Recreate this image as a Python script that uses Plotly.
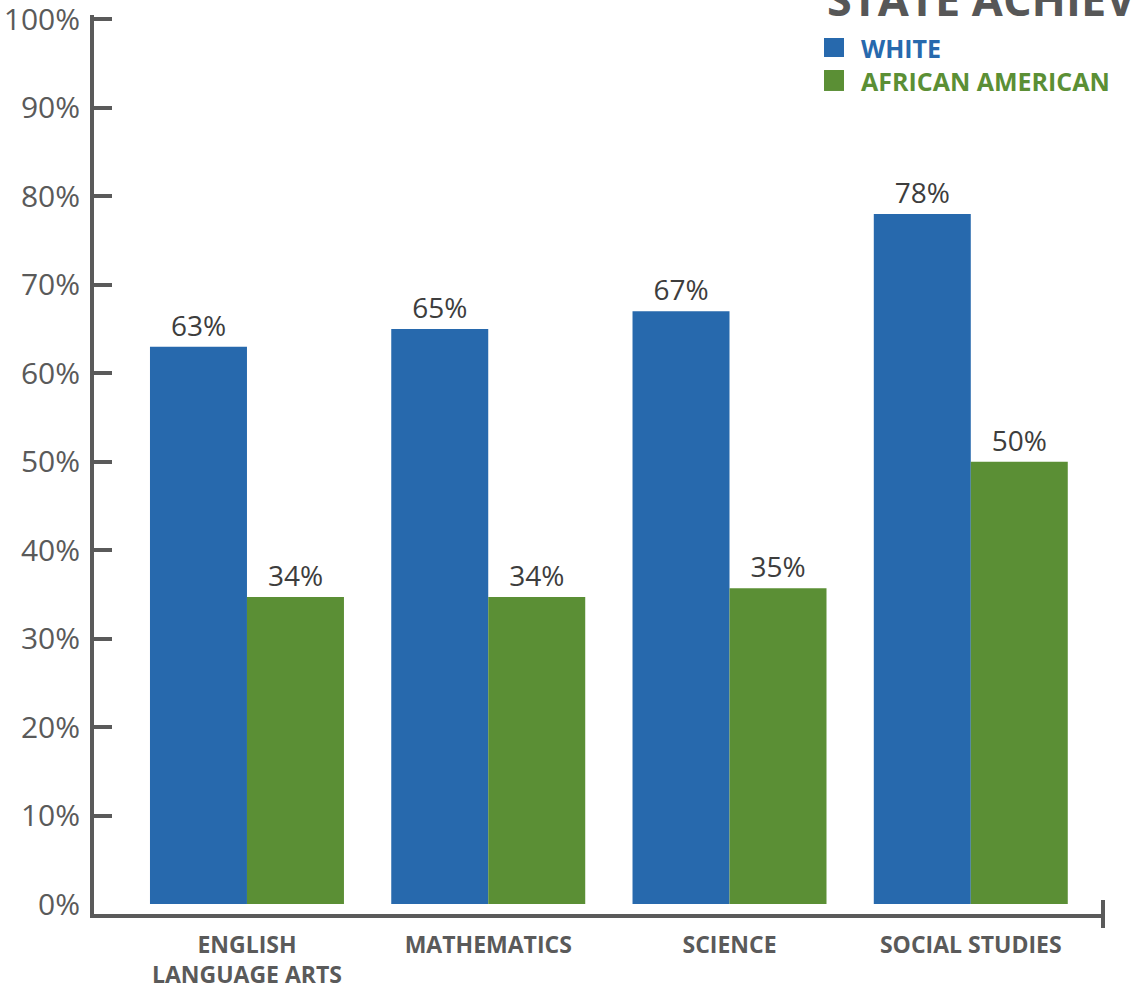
"""State achievement bar chart: white vs African American students by subject."""
from __future__ import annotations

import plotly.graph_objects as go

SUBJECTS = ["ENGLISH<br>LANGUAGE ARTS", "MATHEMATICS", "SCIENCE", "SOCIAL STUDIES"]
WHITE = [63, 65, 67, 78]
WHITE_LABELS = ["63%", "65%", "67%", "78%"]
AFRICAN_AMERICAN = [34.7, 34.7, 35.7, 50]
AFRICAN_AMERICAN_LABELS = ["34%", "34%", "35%", "50%"]
Y_TICKS = [0, 10, 20, 30, 40, 50, 60, 70, 80, 90, 100]
Y_TICK_TEXT = [f"{v}%" for v in Y_TICKS]

BLUE = "#2769ad"
GREEN = "#5b8f35"
AXIS = "#5a5a5a"
FONT = "Open Sans"
Y_RANGE = [-1.13, 100.5]


def build_figure() -> go.Figure:
    fig = go.Figure()
    for name, values, labels, color in (
        ("WHITE", WHITE, WHITE_LABELS, BLUE),
        ("AFRICAN AMERICAN", AFRICAN_AMERICAN, AFRICAN_AMERICAN_LABELS, GREEN),
    ):
        fig.add_trace(go.Bar(
            x=SUBJECTS, y=values, name=name, marker={"color": color, "line": {"width": 0}},
            text=labels, textposition="outside", cliponaxis=False,
            textfont={"family": FONT, "size": 28, "color": "#3d3d3d"},
        ))
    # invisible trace on the overlay axis, only there to carry the inside ticks
    fig.add_trace(go.Scatter(x=[SUBJECTS[0]], y=[None], yaxis="y2", showlegend=False))

    fig.update_layout(
        width=1137, height=988,
        margin={"l": 94, "r": 34, "t": 15, "b": 74, "autoexpand": False},
        paper_bgcolor="white", plot_bgcolor="white",
        barmode="group", bargap=0.196, bargroupgap=0,
        showlegend=False,
        xaxis={
            "range": [-0.634, 3.548], "showline": True, "linecolor": AXIS, "linewidth": 4,
            "ticks": "", "showgrid": False, "zeroline": False, "ticklabelstandoff": 7,
            "automargin": False, "ticklabeloverflow": "allow",
            "tickfont": {"family": FONT, "size": 23, "color": AXIS, "weight": "bold"},
        },
        yaxis={
            "range": Y_RANGE, "tickvals": Y_TICKS, "ticktext": Y_TICK_TEXT,
            "showline": True, "linecolor": AXIS, "linewidth": 4, "ticks": "",
            "showgrid": False, "zeroline": False, "ticklabelstandoff": 4,
            "automargin": False, "ticklabeloverflow": "allow",
            "tickfont": {"family": FONT, "size": 30, "color": AXIS},
        },
        yaxis2={
            "overlaying": "y", "range": Y_RANGE, "tickvals": Y_TICKS[1:],
            "showticklabels": False, "ticks": "inside", "ticklen": 18, "tickwidth": 4,
            "tickcolor": AXIS, "showline": False, "showgrid": False, "zeroline": False,
            "side": "left", "automargin": False,
        },
        shapes=[
            {"type": "line", "xref": "paper", "yref": "paper", "x0": 1, "x1": 1,
             "y0": -0.0156, "y1": 0.0156, "line": {"color": AXIS, "width": 4}},
            {"type": "rect", "xref": "paper", "yref": "paper", "x0": 0.7235, "x1": 0.7433,
             "y0": 0.9533, "y1": 0.9744, "fillcolor": BLUE, "line": {"width": 0}},
            {"type": "rect", "xref": "paper", "yref": "paper", "x0": 0.7235, "x1": 0.7433,
             "y0": 0.9155, "y1": 0.9388, "fillcolor": GREEN, "line": {"width": 0}},
        ],
        annotations=[
            {"text": "STATE ACHIEV", "xref": "paper", "yref": "paper", "x": 0.7245,
             "y": 0.9822, "xanchor": "left", "yanchor": "bottom", "showarrow": False,
             "font": {"family": FONT, "size": 45, "color": "#575757", "weight": "bold"}},
            {"text": "WHITE", "xref": "paper", "yref": "paper", "x": 0.758,
             "y": 0.9633, "xanchor": "left", "yanchor": "middle", "showarrow": False,
             "font": {"family": FONT, "size": 25, "color": BLUE, "weight": "bold"}},
            {"text": "AFRICAN AMERICAN", "xref": "paper", "yref": "paper", "x": 0.758,
             "y": 0.9266, "xanchor": "left", "yanchor": "middle", "showarrow": False,
             "font": {"family": FONT, "size": 25, "color": GREEN, "weight": "bold"}},
        ],
    )
    return fig


fig = build_figure()
# the figure has a fixed pixel size, so drop the page's default body margin
fig.write_html(
    "out.html",
    config={"displayModeBar": False},
    post_script="document.body.style.margin = '0';",
)
